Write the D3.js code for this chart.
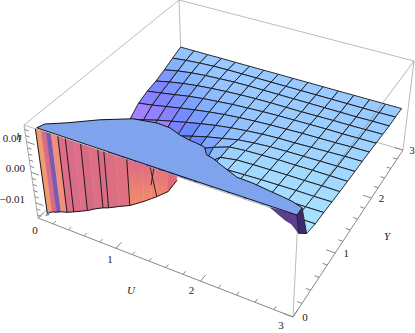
<html>
<head><script src="https://d3js.org/d3.v7.min.js"></script></head>
<body style="margin:0;background:#fff">
<script>
// grid lines of the surface
var uLines = [0,0.195,0.39,0.585,0.78,0.975,1.17,1.365,1.56,1.755,1.95,2.145,2.34,2.535,2.73,2.925];
var yLines = [3,2.8,2.6,2.4,2.2,2,1.8,1.6,1.4,1.2,1,0.8,0.6,0.4];
// surface height, one row per yLines entry, one column per uLines entry
var h30 = [-.0014,-.0014,-.0014,-.0014,-.0014,-.0014,-.0014,-.0014,-.0014,-.0014,-.0014,-.0014,-.0014,-.0014,-.0014,-.0014];
var h28 = [-.0028,-.0022,-.0018,-.0015,-.0014,-.0014,-.0014,-.0014,-.0014,-.0014,-.0014,-.0014,-.0014,-.0014,-.0014,-.0013];
var h26 = [-.0043,-.0033,-.0026,-.0021,-.0018,-.0015,-.0014,-.0014,-.0014,-.0014,-.0014,-.0014,-.0014,-.0014,-.0013,-.0013];
var h24 = [-.0056,-.0045,-.0036,-.0029,-.0024,-.002,-.0017,-.0015,-.0014,-.0014,-.0014,-.0013,-.0012,-.0012,-.0011,-.001];
var h22 = [-.0064,-.0056,-.0047,-.0038,-.0031,-.0026,-.0021,-.0018,-.0015,-.0013,-.0012,-.0011,-.001,-.001,-.0009,-.0008];
var h20 = [-.0078,-.007,-.006,-.005,-.0041,-.0033,-.0026,-.0021,-.0017,-.0014,-.0012,-.001,-.0009,-.0008,-.0006,-.0005];
var h18 = [-.0105,-.0092,-.0078,-.0066,-.0054,-.0043,-.0033,-.0025,-.0019,-.0014,-.0011,-.001,-.0008,-.0006,-.0004,-.0003];
var h16 = [-.0135,-.012,-.0102,-.0085,-.007,-.0055,-.0041,-.003,-.0018,-.0012,-.0008,-.0006,-.0005,-.0004,-.0003,-.0002];
var h14 = [-.015,-.015,-.0135,-.0112,-.0092,-.0072,-.005,-.0028,-.001,-.0005,-.0003,-.0001,-.0001,0,0,0];
var h12 = [-.015,-.015,-.015,-.014,-.0125,-.0105,-.0078,-.005,-.0012,-.0003,-.0001,0,.0001,.0001,.0002,.0002];
var h10 = [-.015,-.015,-.015,-.015,-.014,-.012,-.009,-.005,-.0012,-.0002,0,.0002,.0003,.0004,.0004,.0005];
var h08 = [-.015,-.015,-.015,-.015,-.015,-.013,-.01,-.006,-.001,0,.0002,.0004,.0005,.0006,.0007,.0008];
var h06 = [-.015,-.015,-.015,-.015,-.015,-.014,-.011,-.007,-.001,0,.0002,.0005,.0007,.0008,.0009,.001];
var h04 = [-.015,-.015,-.015,-.015,-.015,-.015,-.012,-.008,-.001,0,.0003,.0006,.0009,.001,.0012,.0018];
var heights = [h30,h28,h26,h24,h22,h20,h18,h16,h14,h12,h10,h08,h06,h04];

var hMin = -.015, hMax = .0155;

// outline of the clipped flat part, at hMax
var sheetU = [.14,.17,.35,.61,.89,1.14,1.30,1.45,1.58,1.66,1.76,1.84,1.92,2.07,2.26,2.43,2.62,2.76,2.87,2.98,2.98];
var sheetY = [.02,.11,.23,.43,.60,.65,.64,.58,.55,.54,.52,.42,.40,.33,.25,.24,.21,.19,.17,.13,.02];

// front wall at Y=0, lower edge
var wallU = [.14,.15,.21,.27,.33,.41,.5,.6,.68,.78,.88,.95,1.08,1.21,1.38,1.47,1.53,1.66,1.76];
var wallLow = [-.0125,-.012,-.011,-.0105,-.0098,-.0092,-.0082,-.007,-.006,-.0045,-.0032,-.0025,-.0008,.0008,.0038,.0056,.0068,.0097,.0142];
var wallColors = ["#f29a70","#f29a70","#d86a8a","#7a5aae","#f08e80","#de6e88","#d96c88","#dd6f88","#d86a86","#dc6e86","#da6b86","#dc6e84","#de7082","url(#glow)","url(#glow)","url(#glow)","url(#glow)","#e06a78"];
var wallMesh = [.41,.5,.68,.88,.95,1.21];
var crossAU = [1.47,1.53], crossAH = [hMax,.0068];
var crossBU = [1.51,1.47], crossBH = [hMax,.0099];
var spotU = [.11,.16,.17], spotH = [-.0132,-.0125,-.0113];

// purple pieces at the right end
var tailU = [2.73,2.88,2.94,2.95,2.925,2.98], tailY = [0,0,0,.15,.4,.02], tailH = [hMax,.0132,.0127,.007,.0018,hMax];
var wedgeU = [2.98,2.98,2.925,2.95], wedgeY = [.02,.13,.4,.15], wedgeH = [hMax,hMax,.0018,.007];

var uTicks = d3.range(0,3.01,.2), yTicks = d3.range(0,3.01,.2), hTicks = d3.range(-.014,.0151,.002);
var uLabels = [0,1,2,3], yLabels = [0,1,2,3], hLabels = [-.01,0,.01];

var width = 415, height = 333;

// screen corners of the box, bottom and top plane: (0,0) (3,0) (3,3) (0,3)
function quadMap(q) {
    var dx1=q[1][0]-q[2][0], dx2=q[3][0]-q[2][0], sx=q[0][0]-q[1][0]+q[2][0]-q[3][0];
    var dy1=q[1][1]-q[2][1], dy2=q[3][1]-q[2][1], sy=q[0][1]-q[1][1]+q[2][1]-q[3][1];
    var den=dx1*dy2-dx2*dy1, g=(sx*dy2-dx2*sy)/den, k=(dx1*sy-sx*dy1)/den;
    var a=q[1][0]-q[0][0]+g*q[1][0], b=q[3][0]-q[0][0]+k*q[3][0];
    var d=q[1][1]-q[0][1]+g*q[1][1], e=q[3][1]-q[0][1]+k*q[3][1];
    return function(s,t) {
        var w=g*s+k*t+1;
        return [(a*s+b*t+q[0][0])/w, (d*s+e*t+q[0][1])/w];
    };
}
var bottomPlane = quadMap([[38,218],[293,317],[403,150],[182,85]]);
var topPlane = quadMap([[24,125],[298,217],[414,61],[179,0]]);
var uScale = d3.scaleLinear().domain([0,3]).range([0,1]);
var yScale = d3.scaleLinear().domain([0,3]).range([0,1]);
var hScale = d3.scaleLinear().domain([hMin,hMax]).range([0,1]);

function proj(u,y,z) {
    var p0 = bottomPlane(uScale(u),yScale(y)), p1 = topPlane(uScale(u),yScale(y));
    return d3.interpolate(p0,p1)(hScale(z));
}
function path(pts) { return "M" + pts.map(function(p){return p[0].toFixed(2)+","+p[1].toFixed(2);}).join("L") + "Z"; }
function open(pts) { return "M" + pts.map(function(p){return p[0].toFixed(2)+","+p[1].toFixed(2);}).join("L"); }

var svg = d3.select("body").append("svg").attr("width",width).attr("height",height).style("display","block");

function edge(g,a,b,color) {
    g.append("path").attr("d",open([proj(a[0],a[1],a[2]),proj(b[0],b[1],b[2])]))
        .attr("fill","none").attr("stroke",color).attr("stroke-width",1);
}

var defs = svg.append("defs");
// the surface only shows behind the front top edge
defs.append("clipPath").attr("id","behind").append("path").attr("d",path([
    proj(0,0,hMax),proj(2.98,0,hMax),proj(2.925,.4,.0018),proj(3,3,hMin),proj(3,3,hMax),proj(0,3,hMax)]));
// warm light on the lower part of the wall
var glow = defs.append("linearGradient").attr("id","glow").attr("gradientUnits","userSpaceOnUse")
    .attr("x1",0).attr("x2",0).attr("y1",proj(1.4,0,hMax)[1]).attr("y2",proj(1.4,0,.0038)[1]);
glow.append("stop").attr("offset",0).attr("stop-color","#de6e84");
glow.append("stop").attr("offset",1).attr("stop-color","#f38c6a");

// edges behind the surface
var back = svg.append("g");
edge(back,[0,3,hMin],[0,3,hMax],"#bbb");
edge(back,[0,3,hMin],[3,3,hMin],"#bbb");
edge(back,[0,3,hMin],[0,0,hMin],"#bbb");
edge(back,[0,0,hMax],[0,3,hMax],"#bbb");
edge(back,[0,3,hMax],[3,3,hMax],"#bbb");
edge(back,[3,3,hMax],[3,3,hMin],"#bbb");

// surface colours
var depthColor = d3.scaleLinear().domain([-.012,-.006,-.0025,-.0012,.001])
    .range(["#4f68ff","#5f80ff","#8fbcff","#9ccdff","#a9e2ff"]);
var purpleMix = d3.scaleLinear().domain([-.0035,-.009]).range([0,.85]).clamp(true);
var leftFade = d3.scaleLinear().domain([.5,1.]).range([1,0]).clamp(true);

var cells = [];
yLines.slice(0,-1).forEach(function(y,j){
    uLines.slice(0,-1).forEach(function(u,i){
        var hs = [heights[j][i],heights[j][i+1],heights[j+1][i+1],heights[j+1][i]];
        cells.push({
            pts:[proj(u,y,hs[0]),proj(uLines[i+1],y,hs[1]),proj(uLines[i+1],yLines[j+1],hs[2]),proj(u,yLines[j+1],hs[3])],
            h:d3.mean(hs), u:u+.1
        });
    });
});
svg.append("g").attr("clip-path","url(#behind)").selectAll("path").data(cells).enter().append("path")
    .attr("d",function(d){return path(d.pts);})
    .attr("fill",function(d){
        return d3.interpolateRgb(depthColor(d.h),"#b685ff")(purpleMix(d.h)*leftFade(d.u));
    })
    .attr("stroke","#161616").attr("stroke-width",.9).attr("stroke-linejoin","round");

// edges in front of the surface
var front = svg.append("g");
edge(front,[3,0,hMax],[3,3,hMax],"rgba(120,120,120,.55)");
edge(front,[0,0,hMax],[3,0,hMax],"#bbb");
edge(front,[0,0,hMin],[0,0,hMax],"#aaa");
edge(front,[3,0,hMin],[3,0,hMax],"#bbb");
edge(front,[0,0,hMin],[3,0,hMin],"#888");
edge(front,[3,0,hMin],[3,3,hMin],"#888");

// ticks
uTicks.forEach(function(t,i){
    edge(front,[t,0,hMin],[t,i%5==0?.1:.05,hMin],"#888");
});
yTicks.forEach(function(t,i){
    edge(front,[3,t,hMin],[i%5==0?2.9:2.95,t,hMin],"#888");
});
hTicks.forEach(function(t,i){
    edge(front,[0,0,t],[(i+3)%5==0?.1:.05,0,t],"#888");
});

// front wall
var wall = svg.append("g");
wallColors.forEach(function(c,i){
    var pts = [proj(wallU[i],0,hMax),proj(wallU[i+1],0,hMax),proj(wallU[i+1],0,wallLow[i+1]),proj(wallU[i],0,wallLow[i])];
    wall.append("path").attr("d",path(pts)).attr("fill",c).attr("stroke",c).attr("stroke-width",.5);
});
function wallLine(pts,w) {
    wall.append("path").attr("d",open(pts)).attr("stroke","#1a1a1a").attr("stroke-width",w).attr("fill","none");
}
wallMesh.forEach(function(u){
    var i = wallU.indexOf(u);
    wallLine([proj(u,0,hMax),proj(u,0,wallLow[i])],1);
});
wallLine(crossAU.map(function(u,i){return proj(u,0,crossAH[i]);}),.9);
wallLine(crossBU.map(function(u,i){return proj(u,0,crossBH[i]);}),.9);
wallLine(wallU.map(function(u,i){return proj(u,0,wallLow[i]);}),1);
wallLine([proj(wallU[0],0,hMax),proj(wallU[0],0,wallLow[0])],1);
wall.append("path").attr("d",path(spotU.map(function(u,i){return proj(u,0,spotH[i]);})))
    .attr("fill","#5b8fd6").attr("stroke","#5b8fd6").attr("stroke-width",.5);

// purple end
svg.append("path").attr("d",path(tailU.map(function(u,i){return proj(u,tailY[i],tailH[i]);})))
    .attr("fill","#5b3e8e").attr("stroke","#2a1d4d").attr("stroke-width",.5);
svg.append("path").attr("d",path(wedgeU.map(function(u,i){return proj(u,wedgeY[i],wedgeH[i]);})))
    .attr("fill","#3d2a6b").attr("stroke","#1a1a1a").attr("stroke-width",.7);

// flat clipped sheet
svg.append("path").attr("d",path(sheetU.map(function(u,i){return proj(u,sheetY[i],hMax);})))
    .attr("fill","#80a3ee").attr("stroke","#141414").attr("stroke-width",1);

// text
var serif = "'Liberation Serif'";
function label(x,y,text,anchor,italic) {
    svg.append("text").attr("x",x).attr("y",y).text(text)
        .attr("text-anchor",anchor||"middle")
        .attr("font-family",serif).attr("font-size",11).attr("fill","#222")
        .attr("font-style",italic?"italic":"normal");
}
uLabels.forEach(function(t){
    var p = proj(t,0,hMin);
    label(p[0]-3-t*3,p[1]+16-t*1.5,t);
});
yLabels.forEach(function(t){
    var p = proj(3,t,hMin);
    label(p[0]+12-t,p[1]+4,t);
});
hLabels.forEach(function(t){
    var p = proj(0,0,t);
    label(t>0?22:25,p[1],(t<0?"\u2212":"")+d3.format(".2f")(Math.abs(t)),"end");
});
label(19,140,"h","middle",true);
label(131,294,"U","middle",true);
label(387,240,"Y","middle",true);
</script>
</body>
</html>
